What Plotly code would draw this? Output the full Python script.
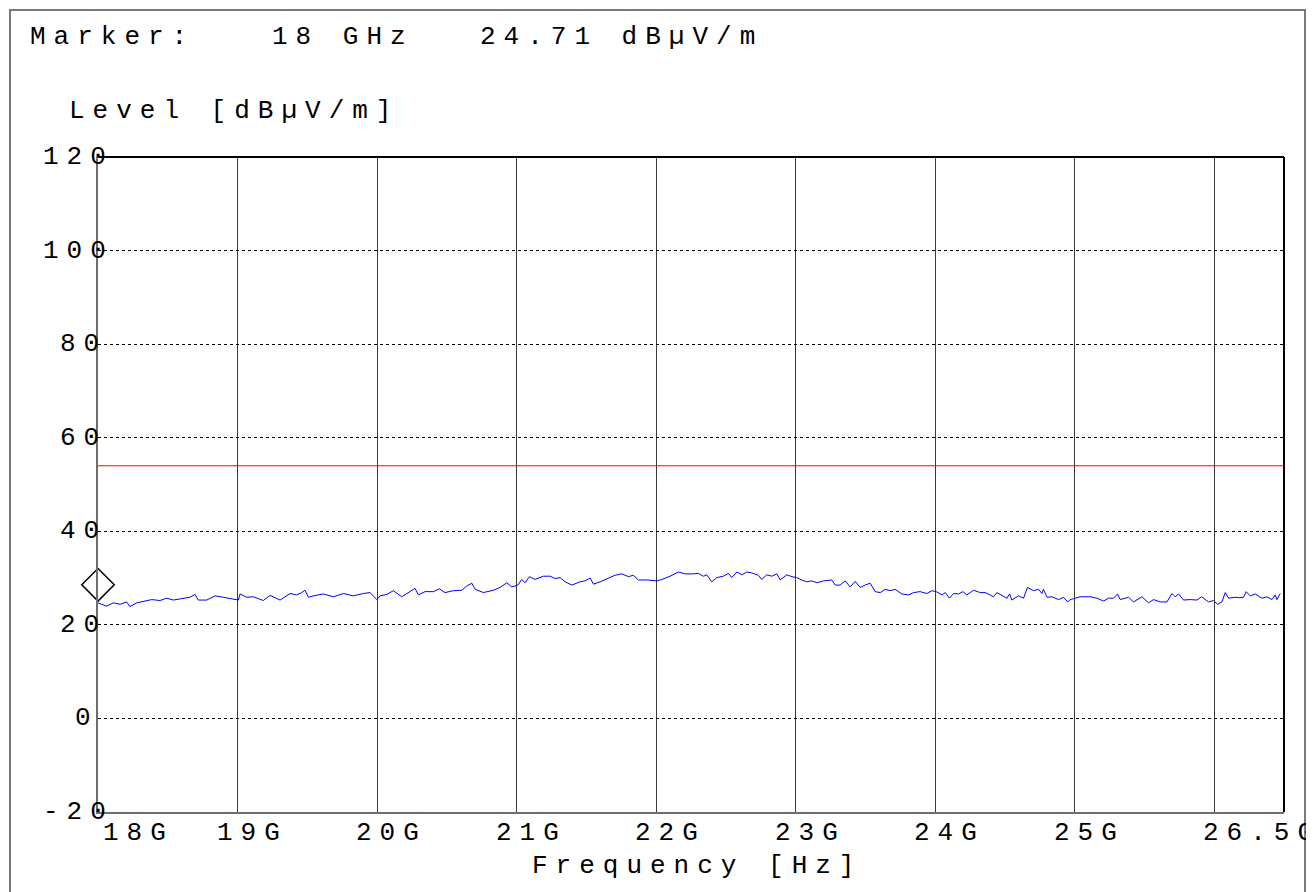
import plotly.graph_objects as go

# ---------------- data ----------------
freq_ghz = [
    18.000, 18.062, 18.110, 18.158, 18.205, 18.229, 18.277, 18.349, 18.385, 18.444,
    18.492, 18.540, 18.588, 18.659, 18.695, 18.719, 18.779, 18.839, 18.898, 19.006,
    19.018, 19.066, 19.113, 19.185, 19.233, 19.305, 19.376, 19.424, 19.460, 19.484,
    19.508, 19.544, 19.615, 19.687, 19.759, 19.830, 19.902, 19.950, 19.998, 20.022,
    20.070, 20.117, 20.177, 20.237, 20.272, 20.296, 20.344, 20.404, 20.447, 20.487,
    20.547, 20.607, 20.643, 20.679, 20.703, 20.762, 20.834, 20.882, 20.930, 20.966,
    21.009, 21.037, 21.061, 21.092, 21.133, 21.192, 21.240, 21.276, 21.312, 21.348,
    21.396, 21.455, 21.491, 21.527, 21.551, 21.599, 21.670, 21.706, 21.754, 21.802,
    21.837, 21.873, 21.933, 22.005, 22.041, 22.100, 22.160, 22.208, 22.267, 22.303,
    22.339, 22.363, 22.399, 22.435, 22.482, 22.518, 22.542, 22.578, 22.614, 22.650,
    22.686, 22.733, 22.757, 22.793, 22.829, 22.865, 22.889, 22.937, 22.973, 23.006,
    23.044, 23.080, 23.116, 23.152, 23.199, 23.259, 23.283, 23.319, 23.355, 23.391,
    23.427, 23.462, 23.498, 23.534, 23.570, 23.606, 23.642, 23.677, 23.713, 23.761,
    23.809, 23.845, 23.892, 23.940, 23.976, 24.007, 24.048, 24.072, 24.103, 24.131,
    24.167, 24.199, 24.227, 24.275, 24.323, 24.358, 24.394, 24.418, 24.442, 24.490,
    24.514, 24.533, 24.550, 24.597, 24.633, 24.662, 24.705, 24.741, 24.765, 24.776,
    24.801, 24.837, 24.884, 24.920, 24.949, 24.968, 25.004, 25.039, 25.111, 25.159,
    25.207, 25.242, 25.278, 25.307, 25.326, 25.386, 25.422, 25.482, 25.529, 25.565,
    25.613, 25.661, 25.697, 25.720, 25.744, 25.780, 25.828, 25.876, 25.910, 25.959,
    25.995, 26.024, 26.055, 26.079, 26.103, 26.150, 26.180, 26.210, 26.229, 26.258,
    26.294, 26.342, 26.378, 26.414, 26.437, 26.449, 26.473,
]
level_dbuv = [
    24.7, 24.0, 24.7, 24.4, 24.9, 23.9, 24.7, 25.2, 25.4, 25.2,
    25.7, 25.3, 25.6, 25.9, 26.5, 25.3, 25.3, 26.2, 25.9, 25.3,
    26.6, 25.9, 26.0, 25.2, 26.3, 25.3, 26.7, 26.4, 26.9, 27.4,
    25.9, 26.2, 26.6, 26.0, 26.7, 26.2, 26.7, 26.9, 25.4, 26.2,
    26.5, 27.3, 26.0, 27.1, 27.8, 26.4, 27.1, 27.1, 27.7, 26.9,
    27.3, 27.4, 28.3, 28.9, 27.6, 26.9, 27.4, 28.0, 29.0, 28.1,
    28.5, 29.7, 29.0, 30.3, 29.7, 30.4, 30.4, 29.9, 30.1, 29.2,
    28.5, 29.2, 29.4, 30.0, 28.7, 29.2, 30.1, 30.6, 30.9, 30.3,
    30.6, 29.6, 29.6, 29.4, 29.7, 30.4, 31.3, 30.9, 30.9, 31.0,
    30.4, 30.7, 29.2, 30.1, 30.4, 31.0, 30.1, 31.3, 30.7, 31.3,
    31.1, 30.6, 29.7, 30.7, 30.4, 30.9, 29.6, 30.7, 30.3, 30.1,
    29.6, 29.2, 29.4, 29.0, 29.4, 29.6, 28.5, 28.5, 29.4, 28.1,
    29.3, 28.0, 28.5, 28.9, 27.1, 26.9, 27.6, 27.3, 27.6, 26.6,
    26.4, 26.9, 27.1, 26.7, 27.3, 27.1, 26.4, 26.9, 25.7, 26.7,
    26.6, 27.1, 26.4, 27.4, 26.9, 26.9, 26.4, 26.0, 26.9, 26.2,
    25.7, 26.6, 25.3, 26.2, 25.7, 28.0, 27.3, 27.6, 26.7, 27.6,
    25.9, 26.0, 25.4, 25.9, 24.9, 25.4, 25.7, 26.0, 26.0, 25.7,
    25.1, 25.7, 25.7, 26.6, 25.4, 25.9, 24.9, 26.0, 24.7, 25.4,
    24.9, 24.9, 26.7, 26.0, 26.6, 25.3, 25.4, 25.3, 26.0, 24.9,
    25.2, 24.4, 24.9, 26.9, 25.7, 25.9, 25.8, 25.9, 27.1, 26.2,
    26.6, 25.7, 26.0, 25.4, 26.4, 25.4, 26.7,
]
limit_level = 54.0
marker_freq = 18.0
marker_level = 24.71

x_ticks = [18, 19, 20, 21, 22, 23, 24, 25, 26.5]
x_tick_labels = ["18G", "19G", "20G", "21G", "22G", "23G", "24G", "25G", "26.5G"]
x_grid = [18, 19, 20, 21, 22, 23, 24, 25, 26]
y_ticks = [120, 100, 80, 60, 40, 20, 0, -20]
y_tick_labels = ["120", "100", "80", "60", "40", "20", "0", "-20"]

# ---------------- layout constants (page pixels) ----------------
OFF = 8                 # browser body margin
PAGE_RIGHT = 1307       # figure clipped here (outer frame edge)
W, H = PAGE_RIGHT - OFF, 892 - OFF
L, R, T, B = 98, 1284, 157, 812
FONT = "Liberation Mono"
FS = 26
LS = 8  # letter spacing px


def sp(t, ls=LS):
    return f'<span style="letter-spacing:{ls}px">{t}</span>'


def px2paper_x(px):
    return (px - L) / (R - L)


def px2paper_y(py):
    return (B - py) / (B - T)


fig = go.Figure()

# limit line
fig.add_trace(go.Scatter(
    x=[x_grid[0], x_ticks[-1]], y=[limit_level, limit_level], mode="lines",
    line=dict(color="#ff0000", width=1), hoverinfo="skip", showlegend=False,
))
# measurement trace
fig.add_trace(go.Scatter(
    x=freq_ghz, y=level_dbuv, mode="lines",
    line=dict(color="#0000ff", width=1), showlegend=False,
))
# marker diamond (sits on top of the marker level)
diamond_px = 18
fig.add_trace(go.Scatter(
    x=[marker_freq], y=[marker_level + diamond_px / ((B - T) / 140)], mode="markers",
    marker=dict(symbol="diamond-open", size=25, color="black", line=dict(color="black", width=1.5)),
    showlegend=False, cliponaxis=False,
))

annotations = []
# header texts
annotations.append(dict(xref="paper", yref="paper", x=px2paper_x(28), y=px2paper_y(37),
                        xanchor="left", yanchor="middle", text=sp("Marker:"), showarrow=False))
annotations.append(dict(xref="paper", yref="paper", x=px2paper_x(270), y=px2paper_y(37),
                        xanchor="left", yanchor="middle", text=sp("18 GHz"), showarrow=False))
annotations.append(dict(xref="paper", yref="paper", x=px2paper_x(478), y=px2paper_y(37),
                        xanchor="left", yanchor="middle", text=sp("24.71 dBµV/m"), showarrow=False))
annotations.append(dict(xref="paper", yref="paper", x=px2paper_x(67), y=px2paper_y(111),
                        xanchor="left", yanchor="middle", text=sp("Level [dBµV/m]"), showarrow=False))
annotations.append(dict(xref="paper", yref="paper", x=px2paper_x(530), y=px2paper_y(866),
                        xanchor="left", yanchor="middle", text=sp("Frequency [Hz]"), showarrow=False))

# y tick labels
for v, lab in zip(y_ticks, y_tick_labels):
    right_edge = 108 + LS - 7.5 * (3 - len(lab))
    annotations.append(dict(xref="paper", yref="y", x=px2paper_x(right_edge), y=v,
                            xanchor="right", yanchor="middle", text=sp(lab), showarrow=False))
# x tick labels
for i, (v, lab) in enumerate(zip(x_ticks, x_tick_labels)):
    if i == 0:
        shift = 3
    elif i == len(x_ticks) - 1:
        shift = -83
    else:
        shift = -23
    annotations.append(dict(xref="x", yref="paper", x=v, y=px2paper_y(833), xshift=shift,
                            xanchor="left", yanchor="middle", text=sp(lab), showarrow=False))

shapes = [
    # top and right frame lines in black
    dict(type="line", xref="paper", yref="paper", x0=0, x1=1, y0=1, y1=1,
         line=dict(color="black", width=2), layer="above"),
    dict(type="line", xref="paper", yref="paper", x0=1, x1=1, y0=0, y1=1,
         line=dict(color="black", width=2), layer="above"),
    # outer page frame
    dict(type="rect", xref="paper", yref="paper",
         x0=px2paper_x(10), x1=px2paper_x(PAGE_RIGHT - 2), y0=px2paper_y(905), y1=px2paper_y(10),
         line=dict(color="#7a7a7a", width=2), fillcolor="rgba(0,0,0,0)", layer="above"),
]

fig.update_layout(
    width=W, height=H, autosize=False,
    margin=dict(l=L - OFF, r=W - (R - OFF), t=T - OFF, b=H - (B - OFF), pad=0),
    paper_bgcolor="white", plot_bgcolor="white",
    font=dict(family=FONT, size=FS, color="black"),
    annotations=annotations, shapes=shapes,
    showlegend=False,
)
fig.update_xaxes(
    range=[18, 26.5], tickvals=x_grid, showticklabels=False, ticks="",
    showgrid=True, gridcolor="#3a3a3a", gridwidth=1,
    showline=True, linecolor="#6e6e6e", linewidth=2, zeroline=False,
)
fig.update_yaxes(
    range=[-20, 120], tickvals=y_ticks, showticklabels=False, ticks="",
    showgrid=True, gridcolor="black", gridwidth=1, griddash="dot",
    showline=True, linecolor="#6e6e6e", linewidth=2, zeroline=False,
)

fig.write_html("out.html")
